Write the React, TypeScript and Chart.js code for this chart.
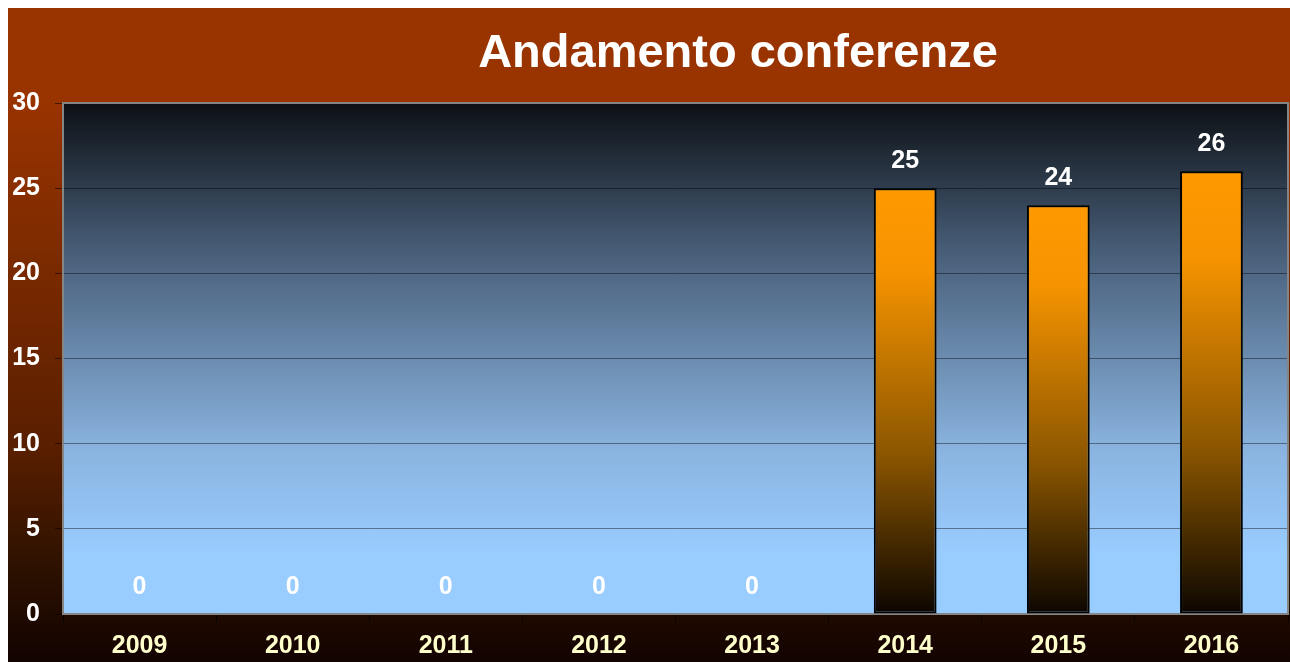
import { useEffect, useRef } from "react";
import { Chart, registerables } from "chart.js";

Chart.register(...registerables);

const categories = ["2009", "2010", "2011", "2012", "2013", "2014", "2015", "2016"];
const conferenze = [0, 0, 0, 0, 0, 25, 24, 26];
const yMin = 0;
const yMax = 30;
const yStep = 5;
const chartTitle = "Andamento conferenze";

const FONT = "'Liberation Sans', Arial, Helvetica, sans-serif";

const backgroundPlugin = {
  id: "bgPlugin",
  beforeDraw(chart: any) {
    const { ctx, width, height, chartArea } = chart;
    ctx.save();
    const g = ctx.createLinearGradient(0, 0, 0, height);
    g.addColorStop(0, "#993300");
    g.addColorStop(0.14, "#993300");
    g.addColorStop(0.37, "#7d2b00");
    g.addColorStop(0.68, "#581e00");
    g.addColorStop(0.87, "#2a1000");
    g.addColorStop(1, "#120200");
    ctx.fillStyle = g;
    ctx.fillRect(0, 0, width, height);
    if (chartArea) {
      const { left, top, right, bottom } = chartArea;
      const pg = ctx.createLinearGradient(0, top, 0, bottom);
      pg.addColorStop(0, "#0c1014");
      pg.addColorStop(0.29, "#485e78");
      pg.addColorStop(0.68, "#8ab4e0");
      pg.addColorStop(0.88, "#99ccff");
      pg.addColorStop(1, "#99ccff");
      ctx.fillStyle = pg;
      ctx.fillRect(left, top, right - left, bottom - top);
    }
    ctx.restore();
  },
  beforeDatasetsDraw(chart: any) {
    const { ctx, chartArea } = chart;
    if (!chartArea) return;
    ctx.save();
    ctx.strokeStyle = "#858585";
    ctx.lineWidth = 2;
    ctx.strokeRect(chartArea.left, chartArea.top, chartArea.right - chartArea.left, chartArea.bottom - chartArea.top);
    ctx.restore();
  },
  afterDatasetsDraw(chart: any) {
    const { ctx } = chart;
    const meta = chart.getDatasetMeta(0);
    ctx.save();
    ctx.fillStyle = "#ffffff";
    ctx.font = `bold 25px ${FONT}`;
    ctx.textAlign = "center";
    ctx.textBaseline = "middle";
    meta.data.forEach((el: any, i: number) => {
      ctx.fillText(String(conferenze[i]), el.x, el.y - 27);
    });
    ctx.restore();
  },
  afterDraw(chart: any) {
    const { ctx } = chart;
    ctx.save();
    ctx.fillStyle = "#ffffff";
    ctx.font = `bold 47px ${FONT}`;
    ctx.textAlign = "center";
    ctx.textBaseline = "middle";
    ctx.fillText(chartTitle, 730, 46);
    ctx.restore();
  },
};

export default function App() {
  const ref = useRef<HTMLCanvasElement | null>(null);

  useEffect(() => {
    document.documentElement.style.overflow = "hidden";
    if (!ref.current) return;
    const chart = new Chart(ref.current, {
      type: "bar",
      data: {
        labels: categories,
        datasets: [
          {
            data: conferenze,
            backgroundColor: (c: any) => {
              const chartObj = c.chart;
              const area = chartObj.chartArea;
              const ys = chartObj.scales && chartObj.scales.y;
              if (!area || !ys || c.raw === undefined) return "#ff9900";
              const top = ys.getPixelForValue(c.raw);
              const bottom = ys.getPixelForValue(0);
              if (bottom - top < 1) return "#ff9900";
              const g = chartObj.ctx.createLinearGradient(0, top, 0, bottom);
              g.addColorStop(0, "#ff9900");
              g.addColorStop(0.2, "#f59300");
              g.addColorStop(0.63, "#8a5500");
              g.addColorStop(1, "#0c0600");
              return g;
            },
            borderColor: "#000000",
            borderWidth: (c: any) => (c.raw ? 2 : 0),
            borderSkipped: false,
            barPercentage: 0.41,
            categoryPercentage: 1,
          },
        ],
      },
      options: {
        responsive: true,
        maintainAspectRatio: false,
        animation: false,
        layout: { padding: { top: 95, right: 2, left: 0, bottom: 0 } },
        plugins: {
          legend: { display: false },
          tooltip: { enabled: false },
          title: { display: false },
        },
        scales: {
          x: {
            afterFit: (s: any) => {
              s.height = 48;
            },
            grid: {
              offset: true,
              drawOnChartArea: false,
              drawTicks: true,
              tickLength: 8,
              color: "rgba(0,0,0,0.6)",
            },
            border: { display: false },
            ticks: {
              color: "#ffffcc",
              padding: 9,
              font: { family: FONT, size: 25, weight: "bold" },
              maxRotation: 0,
            },
          },
          y: {
            min: yMin,
            max: yMax,
            afterFit: (s: any) => {
              s.width = 55;
            },
            grid: {
              color: "rgba(0,0,0,0.42)",
              tickColor: "rgba(0,0,0,0.55)",
              tickLength: 8,
              lineWidth: 1,
            },
            border: { display: false },
            ticks: {
              stepSize: yStep,
              color: "#ffffff",
              padding: 15,
              font: { family: FONT, size: 25, weight: "bold" },
            },
          },
        },
      },
      plugins: [backgroundPlugin],
    });
    return () => chart.destroy();
  }, []);

  return (
    <div style={{ position: "fixed", left: 8, top: 8, width: 1282, height: 654 }}>
      <canvas ref={ref} style={{ display: "block" }} />
    </div>
  );
}
